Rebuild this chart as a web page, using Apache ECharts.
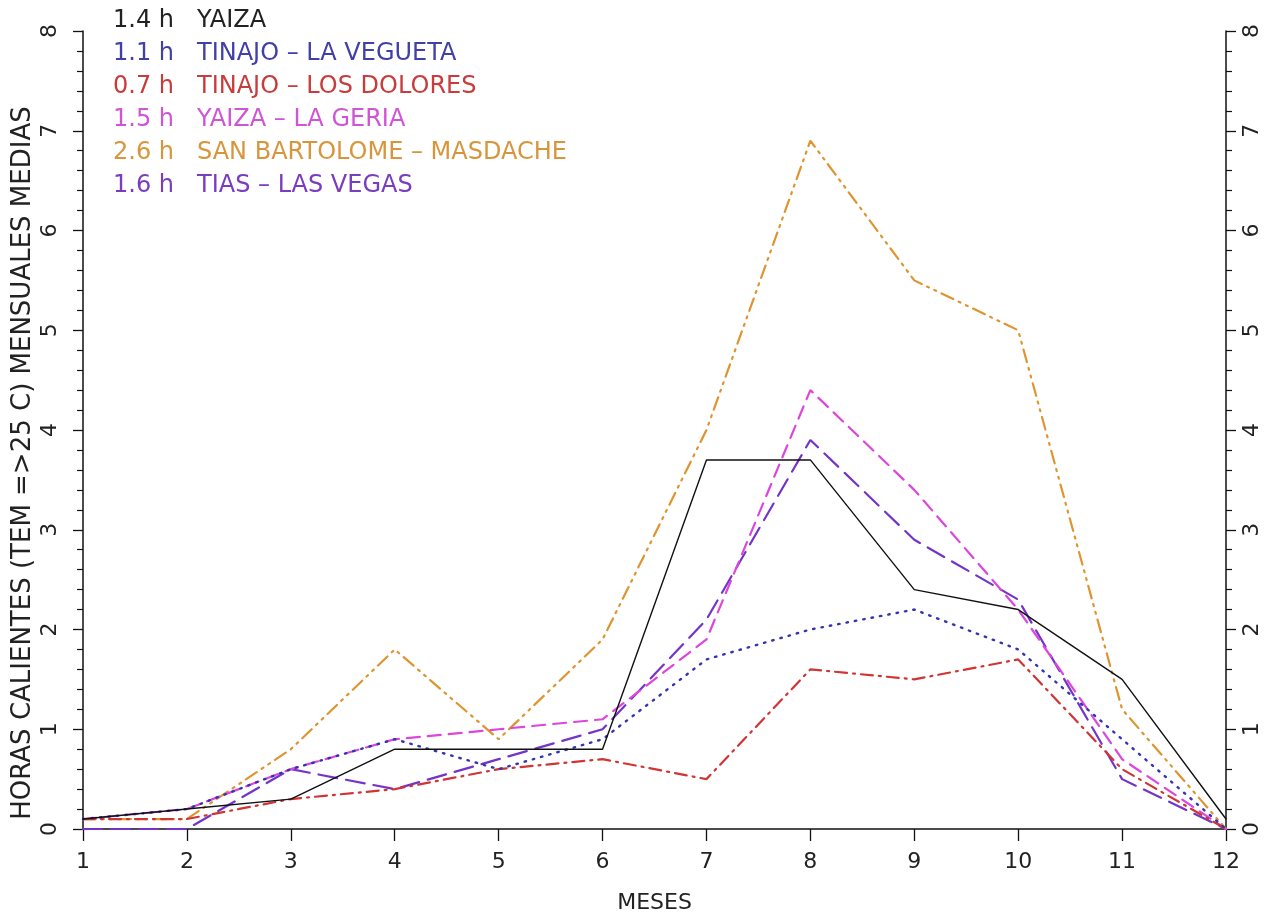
<!DOCTYPE html>
<html><head><meta charset="utf-8">
<script src="https://cdn.jsdelivr.net/npm/echarts@6/dist/echarts.min.js"></script>
<style>html,body{margin:0;padding:0;background:#fff}#c{width:1274px;height:914px}</style>
</head><body><div id="c"></div>
<script>
const months = [1,2,3,4,5,6,7,8,9,10,11,12];
const yaiza        = [0.1,0.2,0.3,0.8,0.8,0.8,3.7,3.7,2.4,2.2,1.5,0.1];
const laVegueta    = [0.1,0.2,0.6,0.9,0.6,0.9,1.7,2.0,2.2,1.8,0.9,0.0];
const losDolores   = [0.1,0.1,0.3,0.4,0.6,0.7,0.5,1.6,1.5,1.7,0.6,0.0];
const laGeria      = [0.1,0.2,0.6,0.9,1.0,1.1,1.9,4.4,3.4,2.2,0.7,0.0];
const masdache     = [0.1,0.1,0.8,1.8,0.9,1.9,4.0,6.9,5.5,5.0,1.2,0.0];
const lasVegas     = [0.0,0.0,0.6,0.4,0.7,1.0,2.1,3.9,2.9,2.3,0.5,0.0];
const seriesNames  = ['YAIZA','TINAJO \u2013 LA VEGUETA','TINAJO \u2013 LOS DOLORES','YAIZA \u2013 LA GERIA','SAN BARTOLOME \u2013 MASDACHE','TIAS \u2013 LAS VEGAS'];
const seriesMeans  = ['1.4 h','1.1 h','0.7 h','1.5 h','2.6 h','1.6 h'];
const yTicks = [0,1,2,3,4,5,6,7,8];
const xTicks = months;

const colors = ['#111111','#3434b0','#d03434','#dc46dc','#de9530','#7434c8'];
const textColors = ['#222222','#4040a8','#c83c3c','#d054d6','#d8963c','#7a3cc0'];
const dashes = ['solid',[1.5,7],[12,6,2,6],[13,8],[13,6,2,6,2,6],[19,9]];
const widths = [1.4,2.4,2.2,2.2,2.2,2.2];
const values = [yaiza,laVegueta,losDolores,laGeria,masdache,lasVegas];
const FONT = '"DejaVu Sans","Liberation Sans",sans-serif';

const chart = echarts.init(document.getElementById('c'));
const series = values.map((v,i)=>({
  name: seriesNames[i], type:'line', data: months.map((m,j)=>[m,v[j]]),
  showSymbol:false, symbol:'none', animation:false,
  lineStyle:{color:colors[i], width:widths[i], type:dashes[i], cap:'round'},
  z: 10-i
}));
const graphics = [];
seriesNames.forEach((n,i)=>{
  graphics.push({type:'text', x:113, y:21+i*33,
    style:{text: seriesMeans[i], fill:textColors[i], font:'24px '+FONT, verticalAlign:'middle'}});
  graphics.push({type:'text', x:197, y:21+i*33,
    style:{text: n, fill:textColors[i], font:'24px '+FONT, verticalAlign:'middle'}});
});
graphics.push({type:'text', x:23, y:463, rotation:Math.PI/2,
  style:{text:'HORAS CALIENTES (TEM =>25 C) MENSUALES MEDIAS', fill:'#222', font:'26px '+FONT, align:'center', verticalAlign:'middle'}});

const yCommon = {
  type:'value', min:0, max:8, interval:1,
  axisLine:{show:true, lineStyle:{color:'#111', width:1.5}},
  axisTick:{show:true, length:10, lineStyle:{color:'#111', width:1.3}},
  minorTick:{show:true, splitNumber:5, length:6, lineStyle:{color:'#111', width:1.2}},
  splitLine:{show:false},
  axisLabel:{rotate:90, fontSize:22, fontFamily:FONT, color:'#222',
    formatter:v=> yTicks.includes(v)? String(v):''}
};
chart.setOption({
  animation:false,
  grid:{left:83, right:48, top:31, bottom:85, containLabel:false, outerBoundsMode:'none'},
  xAxis:{type:'value', min:1, max:12, interval:1,
    name:'MESES', nameLocation:'middle', nameGap:63,
    nameTextStyle:{fontSize:22, fontFamily:FONT, color:'#222'},
    axisLine:{show:true, lineStyle:{color:'#111', width:1.5}},
    axisTick:{show:true, length:12, lineStyle:{color:'#111', width:1.3}},
    splitLine:{show:false},
    axisLabel:{fontSize:22, fontFamily:FONT, color:'#222', margin:22,
      formatter:v=> xTicks.includes(v)? String(v):''}
  },
  yAxis:[
    Object.assign({}, yCommon, {position:'left', axisLabel:Object.assign({}, yCommon.axisLabel, {margin:22})}),
    Object.assign({}, yCommon, {position:'right', axisLabel:Object.assign({}, yCommon.axisLabel, {margin:15})})
  ],
  graphic: graphics,
  series: series
});
</script></body></html>
